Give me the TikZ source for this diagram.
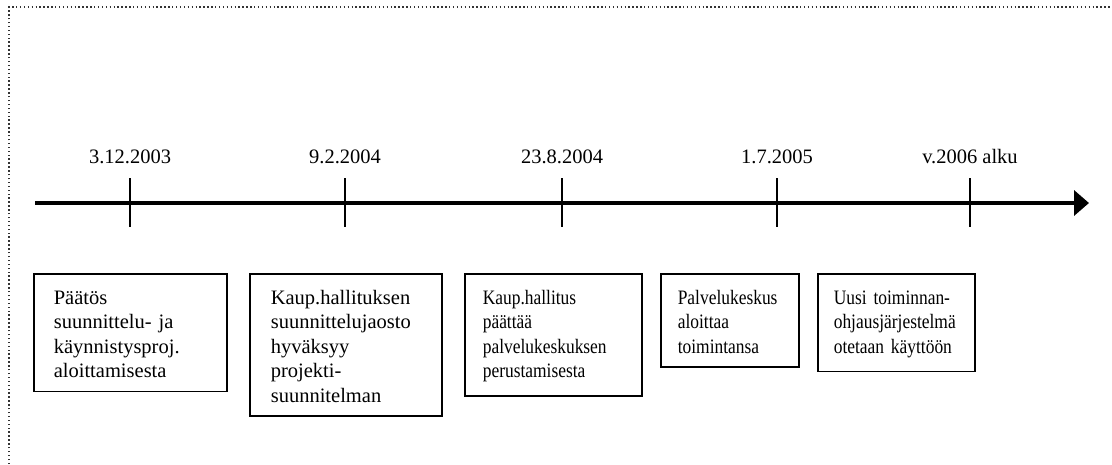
\documentclass[tikz,border=0pt]{standalone}
\usepackage{fontspec}
\setmainfont{Liberation Serif}
\newfontfamily\narrowserif[FakeStretch=0.85]{Liberation Serif}
\usetikzlibrary{arrows.meta,calc}
\begin{document}
\begin{tikzpicture}[x=1pt,y=-1pt,
  every node/.style={font=\fontsize{20.5}{24.5}\selectfont},
  frame/.style={dash pattern=on 1.4pt off 2.5pt, line width=1.4pt, black!80},
  axis/.style={line width=3.6pt, -{Triangle[length=15pt,width=25pt]}},
  tick/.style={line width=1.4pt},
  datelbl/.style={anchor=base, inner sep=0pt},
  event/.style={draw, line width=1.6pt, anchor=north west, align=left,
    inner ysep=13.5pt, execute at begin node={\hyphenpenalty=10000\strut}},
  narrow/.style={font=\fontsize{20.5}{24.5}\narrowserif}]
\useasboundingbox (0,0) rectangle (1112,464);
% page frame (top and left edges)
\draw[frame] (9,464) -- (9,7) -- (1112,7);
% time axis
\coordinate (ax0) at (35,203);
\coordinate (ax1) at (1089,203);
\draw[axis] (ax0) -- (ax1);
% ticks and dates
\foreach \n/\x/\d in {1/130/3.12.2003, 2/345/9.2.2004, 3/562/23.8.2004, 4/777/1.7.2005, 5/970/v.2006 alku}{
  \coordinate (tt\n) at (\x,178);
  \coordinate (tb\n) at (\x,227);
  \draw[tick] (tt\n) -- (tb\n);
  \node[datelbl] (d\n) at (\x,163) {\d};
}
% event boxes
\node[event, text width=153pt, inner xsep=20pt] (e1) at (33,273)
  {Päätös\\suunnittelu- ja\\käynnistysproj.\\aloittamisesta};
\node[event, text width=150pt, inner xsep=21pt] (e2) at (249,273)
  {Kaup.hallituksen\\suunnittelujaosto\\hyväksyy\\projekti-\\suunnitelman};
\node[event, narrow, text width=141pt, inner xsep=18pt] (e3) at (464,273)
  {Kaup.hallitus\\päättää\\palvelukeskuksen\\perustamisesta};
\node[event, narrow, text width=104pt, inner xsep=17pt] (e4) at (660,273)
  {Palvelukeskus\\aloittaa\\toimintansa};
\node[event, narrow, text width=125pt, inner xsep=16pt] (e5) at (817,273)
  {Uusi toiminnan-\\ohjausjärjestelmä\\otetaan käyttöön};
\end{tikzpicture}
\end{document}
